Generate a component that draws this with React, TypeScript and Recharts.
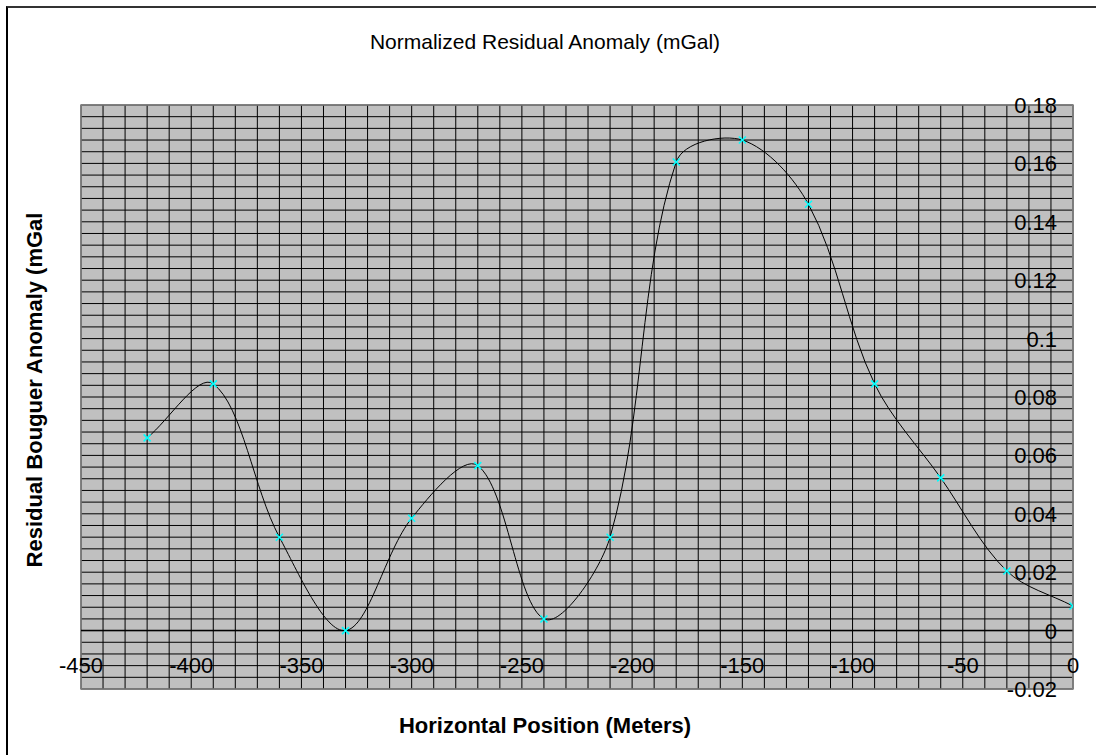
import React from 'react';
import {
  CartesianGrid,
  Line,
  LineChart,
  ReferenceArea,
  ReferenceLine,
  XAxis,
  YAxis,
} from 'recharts';

// Station positions (m) and normalized residual anomaly (mGal)
const positions = [-420, -390, -360, -330, -300, -270, -240, -210, -180, -150, -120, -90, -60, -30, 0];
const anomaly = [0.066, 0.0845, 0.032, 0.0, 0.0385, 0.0565, 0.004, 0.032, 0.1605, 0.168, 0.146, 0.0845, 0.0523, 0.0204, 0.0084];

const xMajorTicks = [-450, -400, -350, -300, -250, -200, -150, -100, -50, 0];
const yMajorTicks = [-0.02, 0, 0.02, 0.04, 0.06, 0.08, 0.1, 0.12, 0.14, 0.16, 0.18];
const yTickLabels = ['-0.02', '0', '0.02', '0.04', '0.06', '0.08', '0.1', '0.12', '0.14', '0.16', '0.18'];

// dense minor grid: every 10 m and every 0.004 mGal
const xGridTicks: number[] = [];
for (let k = 0; k <= 45; k++) xGridTicks.push(-450 + k * 10);
const yGridTicks: number[] = [];
for (let k = 0; k <= 50; k++) yGridTicks.push((-20 + k * 4) / 1000);

const data = positions.map((x, i) => ({ x, y: anomaly[i] }));

const FONT = '"Liberation Sans", Arial, sans-serif';
const W = 1096;
const H = 755;

// Excel-style smoothed line: bezier segments with tangents weighted by chord length
function smoothCurve(context: any) {
  let pts: number[][] = [];
  return {
    areaStart() {},
    areaEnd() {},
    lineStart() {
      pts = [];
    },
    point(x: number, y: number) {
      pts.push([+x, +y]);
    },
    lineEnd() {
      if (!pts.length) return;
      context.moveTo(pts[0][0], pts[0][1]);
      const n = pts.length;
      const dist = (a: number[], b: number[]) => Math.hypot(b[0] - a[0], b[1] - a[1]);
      for (let i = 0; i < n - 1; i++) {
        const p0 = pts[Math.max(i - 1, 0)];
        const p1 = pts[i];
        const p2 = pts[i + 1];
        const p3 = pts[Math.min(i + 2, n - 1)];
        const d01 = dist(p0, p1);
        const d12 = dist(p1, p2);
        const d23 = dist(p2, p3);
        const f1 = d01 + d12 > 0 ? d12 / (d01 + d12) / 3 : 0;
        const f2 = d12 + d23 > 0 ? d12 / (d12 + d23) / 3 : 0;
        context.bezierCurveTo(
          p1[0] + (p2[0] - p0[0]) * f1,
          p1[1] + (p2[1] - p0[1]) * f1,
          p2[0] - (p3[0] - p1[0]) * f2,
          p2[1] - (p3[1] - p1[1]) * f2,
          p2[0],
          p2[1],
        );
      }
    },
  };
}

const isMajor = (v: number, list: number[]) => list.findIndex((m) => Math.abs(m - v) < 1e-9);

function XTick(props: any) {
  const { x, y, payload } = props;
  if (isMajor(payload.value, xMajorTicks) < 0) return <g />;
  return (
    <text x={x} y={y - 24} dy="0.36em" textAnchor="middle" fontSize={22} fontFamily={FONT} fill="#000">
      {payload.value}
    </text>
  );
}

function YTick(props: any) {
  const { x, y, payload } = props;
  const idx = isMajor(payload.value, yMajorTicks);
  if (idx < 0) return <g />;
  return (
    <text x={x - 16} y={y} dy="0.36em" textAnchor="end" fontSize={22} fontFamily={FONT} fill="#000">
      {yTickLabels[idx]}
    </text>
  );
}

function CrossDot(props: any) {
  const { cx, cy, index } = props;
  const s = 3.5;
  return (
    <g key={`dot-${index}`}>
      <line x1={cx - s} y1={cy - s} x2={cx + s} y2={cy + s} stroke="#00FFFF" strokeWidth={1.5} />
      <line x1={cx - s} y1={cy + s} x2={cx + s} y2={cy - s} stroke="#00FFFF" strokeWidth={1.5} />
    </g>
  );
}

export default function App() {
  return (
    <div
      style={{
        position: 'fixed',
        left: 0,
        top: 0,
        width: W,
        height: H,
        overflow: 'hidden',
        background: '#fff',
        fontFamily: FONT,
      }}
    >
      <div
        style={{
          position: 'absolute',
          left: 6,
          top: 6,
          width: W + 20,
          height: H + 20,
          borderTop: '2px solid #333',
          borderLeft: '2px solid #000',
        }}
      />
      <div
        style={{
          position: 'absolute',
          left: 0,
          top: 30,
          width: 1090,
          textAlign: 'center',
          fontSize: 21,
          lineHeight: '24px',
          color: '#000',
        }}
      >
        Normalized Residual Anomaly (mGal)
      </div>
      <div
        style={{
          position: 'absolute',
          left: 0,
          top: 714,
          width: 1090,
          textAlign: 'center',
          fontSize: 22,
          fontWeight: 'bold',
          lineHeight: '24px',
          color: '#000',
        }}
      >
        Horizontal Position (Meters)
      </div>
      <div
        style={{
          position: 'absolute',
          left: 35 - 250,
          top: 390 - 12,
          width: 500,
          textAlign: 'center',
          fontSize: 22,
          fontWeight: 'bold',
          lineHeight: '24px',
          color: '#000',
          transform: 'rotate(-90deg)',
          whiteSpace: 'nowrap',
        }}
      >
        Residual Bouguer Anomaly (mGal
      </div>
      <div style={{ position: 'absolute', left: 0, top: 0 }}>
        <LineChart width={W} height={H} data={data} margin={{ top: 105, right: 13, bottom: 56, left: 81 }}>
          <CartesianGrid stroke="#000" strokeWidth={1} fill="#C0C0C0" fillOpacity={1} />
          <XAxis
            dataKey="x"
            type="number"
            domain={[-450, 0]}
            ticks={xGridTicks}
            interval={0}
            allowDataOverflow
            axisLine={false}
            tickLine={false}
            tickSize={0}
            tickMargin={0}
            height={10}
            tick={<XTick />}
          />
          <YAxis
            orientation="right"
            type="number"
            domain={[-0.02, 0.18]}
            ticks={yGridTicks}
            interval={0}
            allowDataOverflow
            axisLine={{ stroke: '#808080', strokeWidth: 1 }}
            tickLine={false}
            tickSize={0}
            tickMargin={0}
            width={10}
            tick={<YTick />}
          />
          <ReferenceArea x1={-450} x2={0} y1={-0.02} y2={0.18} fill="none" stroke="#808080" strokeWidth={1.5} />
          <ReferenceLine y={0} stroke="#000" strokeWidth={1.5} />
          <Line
            dataKey="y"
            type={smoothCurve as any}
            stroke="#000"
            strokeWidth={1}
            dot={(p: any) => <CrossDot key={`d-${p.index}`} {...p} />}
            activeDot={false}
            isAnimationActive={false}
          />
        </LineChart>
      </div>
    </div>
  );
}
